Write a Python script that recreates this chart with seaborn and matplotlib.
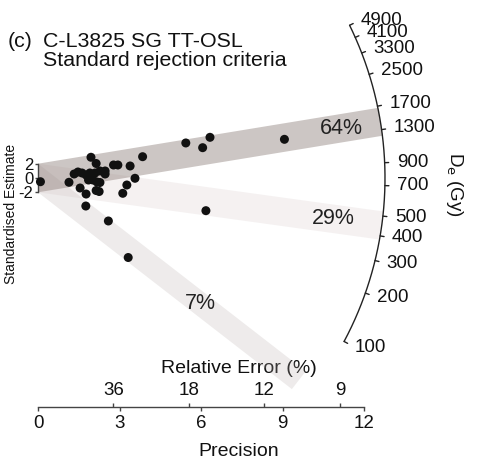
import numpy as np
import matplotlib
matplotlib.use("Agg")
import matplotlib.pyplot as plt
import seaborn as sns
import pandas as pd

# ---------------- data ----------------
precision = [0.09, 1.14, 1.95, 2.14, 1.33, 1.47, 1.62, 1.77, 1.91, 2.10, 2.28, 2.47,
             2.47, 1.55, 1.77, 1.76, 1.86, 2.02, 2.17, 2.28, 2.14, 2.25, 2.59, 3.32,
             2.78, 2.94, 3.39, 3.85, 3.57, 3.27, 3.12, 5.44, 6.33, 6.06, 9.07, 6.18]
std_estimate = [-0.52, -0.60, 2.90, 2.03, 0.56, 0.84, 0.70, 0.42, 0.70, 0.70, 0.98, 0.98,
                0.56, -1.40, -2.24, -3.92, -0.28, -0.28, -0.56, -0.63, -1.75, -1.89, -6.01, -11.12,
                1.82, 1.82, 1.68, 2.98, -0.04, -0.98, -2.14, 4.90, 5.69, 4.24, 5.41, -4.57]
central_de = 761
component_de = [1420, 450, 40]
component_labels = ["64%", "29%", "7%"]
de_ticks = [100, 200, 300, 400, 500, 700, 900, 1300, 1700, 2500, 3300, 4100, 4900]
precision_ticks = [0, 3, 6, 9, 12]
rel_err_ticks = [36, 18, 12, 9]
std_ticks = [-2, 0, 2]

# ---------------- style ----------------
sns.set_theme(style="ticks")
plt.rcParams["font.family"] = ["Liberation Sans", "DejaVu Sans"]
plt.rcParams["axes.unicode_minus"] = False

W, H = 478, 470
fig = plt.figure(figsize=(W / 100, H / 100), dpi=100)
ax = fig.add_axes([0, 0, 1, 1])
ax.set_facecolor("white")

XPX, YPX = 27.17, 7.15      # pixels per data unit
OX, OY = 38, 178            # origin pixel position
ax.set_xlim(-OX / XPX, (W - OX) / XPX)
ax.set_ylim(-(H - OY) / YPX, OY / YPX)

def to_data(px, py):
    return np.asarray(px) / XPX, np.asarray(py) / YPX

def angle_for(de):
    return np.arctan((np.log(de) - np.log(central_de)) * YPX / XPX)

R_ARC = 347.0

# ---------------- bands ----------------
band_styles = [dict(color="#8f817c", alpha=0.45, length=347, lab_r=307),
               dict(color="#cdbcbc", alpha=0.2, length=346, lab_r=298),
               dict(color="#b8aeac", alpha=0.24, length=330, lab_r=205)]
order = [2, 1, 0]
for i in order:
    de, lab, st = component_de[i], component_labels[i], band_styles[i]
    phi = angle_for(de)
    u = np.array([np.cos(phi), np.sin(phi)])
    n = np.array([-np.sin(phi), np.cos(phi)])
    h = 2 * YPX * np.cos(phi)
    e = st["length"] * u
    pts = np.array([[0, 2 * YPX], e + h * n, e - h * n, [0, -2 * YPX]])
    dx, dy = to_data(pts[:, 0], pts[:, 1])
    ax.fill(dx, dy, color=st["color"], alpha=st["alpha"], lw=0, zorder=1)
    lx, ly = to_data(st["lab_r"] * u[0], st["lab_r"] * u[1])
    ax.text(lx, ly, lab, fontsize=15.5, ha="center", va="center", color="#222222", zorder=4)

# ---------------- De arc ----------------
phis = np.linspace(angle_for(de_ticks[0]), angle_for(de_ticks[-1]), 200)
ax_, ay_ = to_data(R_ARC * np.cos(phis), R_ARC * np.sin(phis))
ax.plot(ax_, ay_, color="#222222", lw=1.0, zorder=2, clip_on=False)
for de in de_ticks:
    p = angle_for(de)
    tx, ty = to_data(np.array([R_ARC, R_ARC + 4]) * np.cos(p),
                     np.array([R_ARC, R_ARC + 4]) * np.sin(p))
    ax.plot(tx, ty, color="#222222", lw=1.0, zorder=2, clip_on=False)
    lx, ly = to_data((R_ARC + 12) * np.cos(p), (R_ARC + 12) * np.sin(p))
    ax.text(lx, ly, f"{de}", fontsize=13.5, ha="left", va="center", color="#111111")

fig.text(455 / W, 1 - 184 / H, r"D$_\mathrm{e}$ (Gy)", fontsize=13.5, rotation=270,
         ha="center", va="center", color="#111111")

# ---------------- points ----------------
df = pd.DataFrame({"precision": precision, "std": std_estimate})
sns.scatterplot(data=df, x="precision", y="std", ax=ax, color="#111111", s=42,
                edgecolor="none", zorder=3, legend=False)

# ---------------- axes ----------------
axis_frac = (H - 407) / H
for s in ["top", "right"]:
    ax.spines[s].set_visible(False)
ax.spines["bottom"].set_position(("axes", axis_frac))
ax.spines["bottom"].set_bounds(0, 12)
ax.spines["left"].set_position(("data", 0))
ax.spines["left"].set_bounds(-2, 2)
for s in ["bottom", "left"]:
    ax.spines[s].set_color("#444444")
    ax.spines[s].set_linewidth(1.0)
ax.set_xticks(precision_ticks)
ax.set_yticks(std_ticks)
ax.tick_params(axis="x", direction="out", length=3, width=1, color="#444444",
               labelsize=13.5, pad=3, labelcolor="#111111")
ax.tick_params(axis="y", direction="out", length=2, width=1, color="#444444",
               labelsize=12, pad=1.5, labelcolor="#111111")
ax.set_xlabel("Precision", fontsize=14, labelpad=8, color="#111111")
ax.set_ylabel("")

def inv(x):
    x = np.asarray(x, dtype=float)
    with np.errstate(divide="ignore", invalid="ignore"):
        return 100.0 / x

sec = ax.secondary_xaxis(axis_frac, functions=(inv, inv))
sec.set_alignment("top")
for s in sec.spines.values():
    s.set_visible(False)
sec.set_xticks(rel_err_ticks)
sec.tick_params(axis="x", direction="out", length=3, width=1, color="#444444",
                labelsize=13.5, pad=3, labelcolor="#111111")
sec.set_xlabel("Relative Error (%)", fontsize=14, labelpad=6, color="#111111")

fig.text(11 / W, 1 - 214 / H, "Standardised Estimate", fontsize=10, rotation=90,
         ha="center", va="center", color="#111111")

# ---------------- title ----------------
fig.text(8 / W, 1 - 47 / H, "(c)", fontsize=15.4, va="baseline", color="#111111")
fig.text(43 / W, 1 - 47 / H, "C-L3825 SG TT-OSL", fontsize=15.4, va="baseline", color="#111111")
fig.text(43 / W, 1 - 66.5 / H, "Standard rejection criteria", fontsize=15.4, va="baseline",
         color="#111111")

fig.savefig("out.png", dpi=100, facecolor="white")
